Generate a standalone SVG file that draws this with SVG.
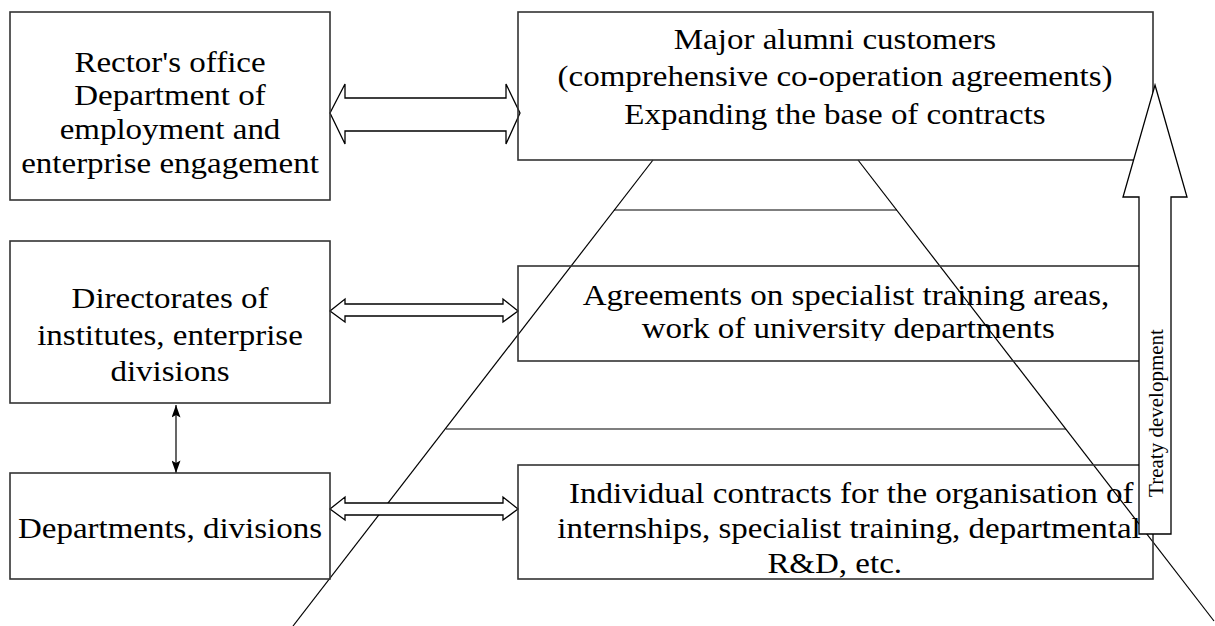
<svg xmlns="http://www.w3.org/2000/svg" width="1215" height="626" viewBox="0 0 1215 626">
<defs>
<style>
.box{fill:none;stroke:#333;stroke-width:1.6}
.ln{fill:none;stroke:#000;stroke-width:1.2}
.blk{fill:#fff;stroke:#000;stroke-width:1.3;stroke-linejoin:miter}
.t{font-family:"Liberation Serif","Times New Roman",serif;font-size:30px;fill:#000;text-anchor:middle}
.tv{font-family:"Liberation Serif","Times New Roman",serif;font-size:21px;fill:#000;text-anchor:middle}
</style>
<marker id="ah" viewBox="0 0 14 10" refX="14" refY="5" markerWidth="14" markerHeight="9" markerUnits="userSpaceOnUse" orient="auto-start-reverse">
<path d="M0,0 L14,5 L0,10 L3,5 Z" fill="#000"/>
</marker>
<clipPath id="clipMid"><rect x="518" y="266" width="640" height="75"/></clipPath>
</defs>
<rect width="1215" height="626" fill="#fff"/>
<g id="connectors">
<line class="ln" x1="653" y1="160" x2="293" y2="626"/>
<line class="ln" x1="858" y1="160" x2="1214" y2="621"/>
<line class="ln" x1="614" y1="210" x2="897" y2="210"/>
<line class="ln" x1="446" y1="429" x2="1066" y2="429"/>
<polygon class="blk" points="330,113 345,84 345,98 506,98 506,84 520,113 506,144 506,131 345,131 345,144"/>
<polygon class="blk" points="330,311 345,299 345,304 503,304 503,299 518,311 503,322 503,316 345,316 345,322"/>
<polygon class="blk" points="330,509 345,497 345,503 503,503 503,497 518,509 503,520 503,515 345,515 345,520"/>
<line class="ln" x1="176" y1="405" x2="176" y2="473" marker-start="url(#ah)" marker-end="url(#ah)"/>
</g>
<g id="rector">
<rect class="box" x="10" y="12" width="320" height="188"/>
<g transform="translate(170,0) scale(1.1,1)">
<text class="t" x="0" y="72">Rector's office</text>
<text class="t" x="0" y="105">Department of</text>
<text class="t" x="0" y="139">employment and</text>
<text class="t" x="0" y="173">enterprise engagement</text>
</g>
</g>
<g id="directorates">
<rect class="box" x="10" y="241" width="320" height="162"/>
<g transform="translate(170,0) scale(1.1,1)">
<text class="t" x="0" y="308">Directorates of</text>
<text class="t" x="0" y="345">institutes, enterprise</text>
<text class="t" x="0" y="381">divisions</text>
</g>
</g>
<g id="departments">
<rect class="box" x="10" y="473" width="320" height="106"/>
<g transform="translate(170,0) scale(1.1,1)">
<text class="t" x="0" y="538">Departments, divisions</text>
</g>
</g>
<g id="major">
<rect class="box" x="518" y="12" width="635" height="148"/>
<g transform="translate(835,0) scale(1.1,1)">
<text class="t" x="0" y="49">Major alumni customers</text>
<text class="t" x="0" y="86">(comprehensive co-operation agreements)</text>
<text class="t" x="0" y="124">Expanding the base of contracts</text>
</g>
</g>
<g id="agreements">
<rect class="box" x="518" y="266" width="635" height="95"/>
<g clip-path="url(#clipMid)">
<g transform="translate(846,0) scale(1.1,1)">
<text class="t" x="0" y="305">Agreements on specialist training areas,</text>
<text class="t" x="2" y="338">work of university departments</text>
</g>
</g>
</g>
<g id="individual">
<rect class="box" x="518" y="465" width="635" height="114"/>
<g transform="translate(849,0) scale(1.1,1)">
<text class="t" x="2" y="503">Individual contracts for the organisation of</text>
<text class="t" x="0" y="538">internships, specialist training, departmental</text>
<text class="t" x="-13" y="573">R&amp;D, etc.</text>
</g>
</g>
<g id="treaty">
<polygon class="blk" points="1155,85 1187,197 1171,197 1171,534 1139,534 1139,197 1123,197"/>
<text class="tv" transform="translate(1163,413) rotate(-90)">Treaty development</text>
</g>
</svg>
